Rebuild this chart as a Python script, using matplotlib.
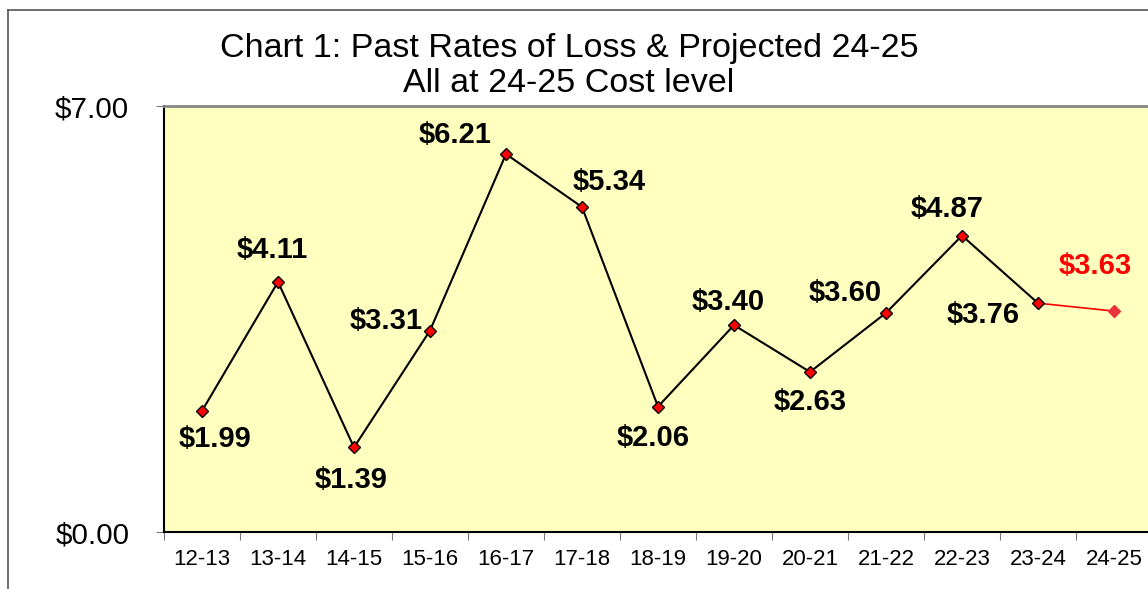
import matplotlib.pyplot as plt
from matplotlib.lines import Line2D

plt.rcParams['font.family'] = ['Liberation Sans', 'DejaVu Sans']

# Dados do gráfico
years = ['12-13', '13-14', '14-15', '15-16', '16-17', '17-18', '18-19',
         '19-20', '20-21', '21-22', '22-23', '23-24', '24-25']
past_rates = [1.99, 4.11, 1.39, 3.31, 6.21, 5.34, 2.06, 3.40, 2.63, 3.60, 4.87, 3.76]
projected = 3.63
y_ticks = [0, 7]

# Deslocamento de cada rótulo em pixels (dx, dy)
label_offsets = [(13, -28), (-6, 32), (-3, -33), (-44, 10), (-51, 19), (27, 25),
                 (-5, -31), (-6, 23), (0, -30), (-41, 20), (-15, 27), (-55, -12)]

fig = plt.figure(figsize=(11.48, 5.89), dpi=100)
ax = fig.add_axes([164 / 1148, 1 - 532 / 589, 988 / 1148, 426 / 589])
ax.set_facecolor('#FFFFC0')

x = list(range(len(past_rates)))
ax.plot(x, past_rates, color='black', lw=1.5, marker='D', ms=6,
        mfc='red', mec='black', mew=1, zorder=3)
ax.plot([x[-1], len(years) - 1], [past_rates[-1], projected], color='red', lw=1.2, zorder=2)
ax.plot([len(years) - 1], [projected], marker='D', ms=6, color='#E8343A', mec='#E8343A', zorder=3)

for i, v in enumerate(past_rates):
    dx, dy = label_offsets[i]
    ax.annotate(f'${v:.2f}', (i, v), xytext=(dx, dy), textcoords='offset pixels',
                ha='center', va='center', fontsize=21, fontweight='bold', color='black')
ax.annotate(f'${projected:.2f}', (len(years) - 1, projected), xytext=(-19, 45),
            textcoords='offset pixels', ha='center', va='center',
            fontsize=21, fontweight='bold', color='red')

ax.set_xlim(-0.5, len(years) - 0.5)
ax.set_ylim(y_ticks[0], y_ticks[-1])
ax.set_yticks(y_ticks)
ax.set_yticklabels([f'${t:.2f}' for t in y_ticks], fontsize=21.3)
ax.set_xticks([i - 0.5 for i in range(len(years) + 1)])
ax.set_xticklabels([])
ax.set_xticks(range(len(years)), minor=True)
ax.set_xticklabels(years, minor=True, fontsize=16)
ax.tick_params(axis='x', which='major', length=6, color='#777777', direction='out')
ax.tick_params(axis='x', which='minor', length=0, pad=12)
ax.tick_params(axis='y', length=6, color='#777777', pad=19)

ax.spines['top'].set_color('#888888')
ax.spines['top'].set_linewidth(2)
ax.spines['left'].set_color('black')
ax.spines['bottom'].set_color('black')
ax.spines['left'].set_linewidth(1.5)
ax.spines['bottom'].set_linewidth(1.5)
ax.spines['right'].set_visible(False)

# Moldura externa
fig.add_artist(Line2D([8 / 1148, 1], [1 - 10 / 589, 1 - 10 / 589], color='#555555', lw=1.2))
fig.add_artist(Line2D([8 / 1148, 8 / 1148], [0, 1 - 10 / 589], color='#555555', lw=1.2))

fig.text(569 / 1148, 1 - 48 / 589, 'Chart 1: Past Rates of Loss & Projected 24-25',
         ha='center', va='center', fontsize=24.5)
fig.text(569 / 1148, 1 - 83 / 589, 'All at 24-25 Cost level',
         ha='center', va='center', fontsize=24.5)

plt.savefig('out.png', dpi=100)
